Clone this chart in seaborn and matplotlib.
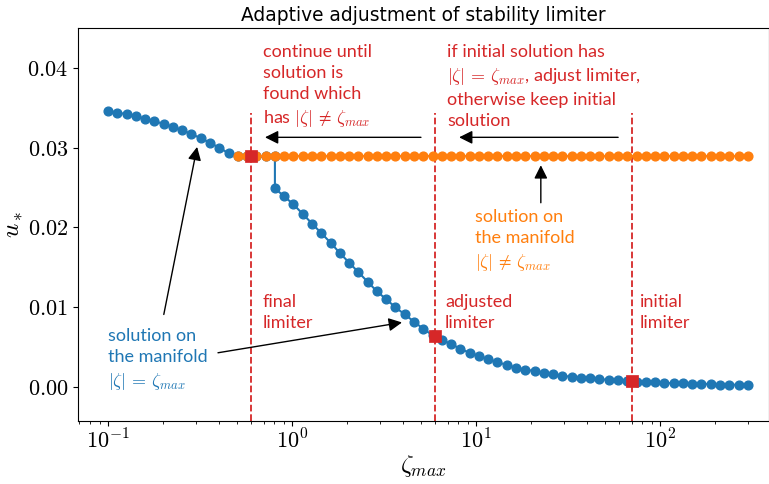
import math
import matplotlib
matplotlib.use("Agg")
import matplotlib.pyplot as plt
import seaborn as sns
from matplotlib.ticker import FixedLocator, FuncFormatter, LogLocator, NullFormatter

# ---------------- data ----------------
zeta_grid = [
    0.1, 0.1123, 0.1261, 0.1416, 0.1591, 0.1786, 0.2006, 0.2253, 0.2530, 0.2842,
    0.3191, 0.3584, 0.4025, 0.4520, 0.5076, 0.5700, 0.6402, 0.7189, 0.8073, 0.9066,
    1.018, 1.143, 1.284, 1.442, 1.620, 1.819, 2.043, 2.294, 2.576, 2.893,
    3.250, 3.649, 4.098, 4.602, 5.168, 5.804, 6.518, 7.320, 8.221, 9.233,
    10.37, 11.65, 13.08, 14.69, 16.50, 18.52, 20.80, 23.36, 26.24, 29.47,
    33.09, 37.16, 41.74, 46.87, 52.64, 59.11, 66.39, 74.56, 83.73, 94.03,
    105.6, 118.6, 133.2, 149.6, 168.0, 188.6, 211.8, 237.9, 267.2, 300.0,
]

# blue branch, |zeta| = zeta_max : first part (grid points 0..18)
u_blue_upper = [
    0.0346, 0.0344, 0.0342, 0.0340, 0.0336, 0.0333, 0.0330, 0.0326, 0.0322, 0.0317,
    0.0312, 0.0306, 0.0300, 0.0293, 0.0289, 0.0289, 0.0289, 0.0289, 0.0289,
]
# blue branch after the jump (grid points 18..69)
u_blue_lower = [
    0.0249, 0.0239, 0.0229, 0.0217, 0.0205, 0.0193, 0.0181, 0.0168, 0.0156, 0.0144,
    0.0132, 0.0120, 0.0110, 0.0100, 0.0091, 0.0082, 0.0073, 0.0065, 0.0059, 0.0054,
    0.0048, 0.0043, 0.0039, 0.0035, 0.0031, 0.0028, 0.0024, 0.0022, 0.0020, 0.0018,
    0.0016, 0.0014, 0.0013, 0.0012, 0.0011, 0.0010, 0.0009, 0.0009, 0.0008, 0.0007,
    0.0006, 0.0006, 0.0005, 0.0005, 0.0005, 0.0004, 0.0004, 0.0004, 0.0003, 0.0003,
    0.0003, 0.0003,
]
# orange branch, |zeta| != zeta_max (grid points 14..69)
u_orange = [
    0.0289, 0.0289, 0.0289, 0.0289, 0.0289, 0.0289, 0.0289, 0.0289, 0.0289, 0.0289,
    0.0289, 0.0289, 0.0289, 0.0289, 0.0289, 0.0289, 0.0289, 0.0289, 0.0289, 0.0289,
    0.0289, 0.0289, 0.0289, 0.0289, 0.0289, 0.0289, 0.0289, 0.0289, 0.0289, 0.0289,
    0.0289, 0.0289, 0.0289, 0.0289, 0.0289, 0.0289, 0.0289, 0.0289, 0.0289, 0.0289,
    0.0289, 0.0289, 0.0289, 0.0289, 0.0289, 0.0289, 0.0289, 0.0289, 0.0289, 0.0289,
    0.0289, 0.0289, 0.0289, 0.0289, 0.0289, 0.0289,
]
limiter_zeta = [0.6, 6.0, 70.0]      # final, adjusted, initial limiter
limiter_u = [0.0289, 0.0064, 0.0008]

y_ticks = [0.00, 0.01, 0.02, 0.03, 0.04]
x_ticks = [0.1, 1.0, 10.0, 100.0]

title = "Adaptive adjustment of stability limiter"
txt_continue = "continue until\nsolution is\nfound which\nhas $|\\zeta|\\,\\neq\\,\\zeta_{max}$"
txt_if = ("if initial solution has\n$|\\zeta|\\,=\\,\\zeta_{max}$, adjust limiter,\n"
          "otherwise keep initial\nsolution")
txt_final = "final\nlimiter"
txt_adjusted = "adjusted\nlimiter"
txt_initial = "initial\nlimiter"
txt_blue = "solution on\nthe manifold\n$|\\zeta|\\,=\\,\\zeta_{max}$"
txt_orange = "solution on\nthe manifold\n$|\\zeta|\\,\\neq\\,\\zeta_{max}$"

C_BLUE = "#1f77b4"
C_ORANGE = "#ff7f0e"
C_RED = "#d62728"

# ---------------- figure ----------------
plt.rcParams["mathtext.fontset"] = "cm"
plt.rcParams["font.family"] = ["Lato", "DejaVu Sans"]

fig = plt.figure(figsize=(7.69, 4.84), dpi=100)
ax = fig.add_axes([78 / 769, 1 - 421 / 484, (769 - 78) / 769, (421 - 28) / 484])
ax.set_xscale("log")

blue_x = zeta_grid[:19] + zeta_grid[18:]
blue_y = u_blue_upper + u_blue_lower
sns.lineplot(x=blue_x, y=blue_y, sort=False, estimator=None, color=C_BLUE,
             marker="o", markersize=6.3, markeredgecolor=C_BLUE,
             markeredgewidth=1, linewidth=1.5, ax=ax, zorder=2)
sns.lineplot(x=zeta_grid[14:], y=u_orange, sort=False, estimator=None, color=C_ORANGE,
             marker="o", markersize=6.3, markeredgecolor=C_ORANGE,
             markeredgewidth=1, linewidth=1.5, ax=ax, zorder=3)
sns.scatterplot(x=limiter_zeta, y=limiter_u, marker="s", s=80, color=C_RED,
                edgecolor=C_RED, linewidth=0.5, ax=ax, zorder=4)

ax.set_xlim(0.0687, 391)
ax.set_ylim(-0.00425, 0.045)
ax.vlines(limiter_zeta, -0.00425, 0.0343, colors=C_RED, linestyles="--", linewidth=1.3, zorder=1)

# arrows
arrow_kw = dict(arrowstyle="-|>", color="k", lw=1.0, mutation_scale=20, shrinkA=0, shrinkB=0)
ax.annotate("", xy=(0.713, 0.0313), xytext=(5.02, 0.0313), arrowprops=arrow_kw)
ax.annotate("", xy=(8.09, 0.0313), xytext=(59.2, 0.0313), arrowprops=arrow_kw)
ax.annotate("", xy=(22.5, 0.0278), xytext=(22.5, 0.0231), arrowprops=arrow_kw)
ax.annotate("", xy=(0.305, 0.0301), xytext=(0.201, 0.0091), arrowprops=arrow_kw)
ax.annotate("", xy=(3.96, 0.0081), xytext=(0.396, 0.0043), arrowprops=arrow_kw)

text_kw = dict(fontsize=13, va="top", ha="left", linespacing=1.38)
ax.text(0.695, 0.0430, txt_continue, color=C_RED, **text_kw)
ax.text(6.95, 0.0430, txt_if, color=C_RED, **text_kw)
ax.text(0.695, 0.01165, txt_final, color=C_RED, **text_kw)
ax.text(6.79, 0.01165, txt_adjusted, color=C_RED, **text_kw)
ax.text(77.8, 0.01165, txt_initial, color=C_RED, **text_kw)
ax.text(0.1, 0.0074, txt_blue, color=C_BLUE, **text_kw)
ax.text(9.9, 0.0223, txt_orange, color=C_ORANGE, **text_kw)

# axes formatting
ax.yaxis.set_major_locator(FixedLocator(y_ticks))
ax.yaxis.set_major_formatter(FuncFormatter(lambda v, p: "$%.2f$" % v))
ax.xaxis.set_major_locator(FixedLocator(x_ticks))
ax.xaxis.set_major_formatter(FuncFormatter(lambda v, p: "$10^{%d}$" % round(math.log10(v))))
ax.xaxis.set_minor_locator(LogLocator(base=10, subs=[2, 3, 4, 5, 6, 7, 8, 9], numticks=20))
ax.xaxis.set_minor_formatter(NullFormatter())
ax.tick_params(axis="both", which="major", labelsize=16)
ax.tick_params(axis="x", which="major", pad=2)
ax.set_xlabel("$\\zeta_{max}$", fontsize=18, labelpad=0)
ax.set_ylabel("$u_*$", fontsize=18, labelpad=2)
ax.set_title(title, fontsize=13.4, family=["DejaVu Sans"], pad=5)

fig.savefig("out.png", dpi=100)
